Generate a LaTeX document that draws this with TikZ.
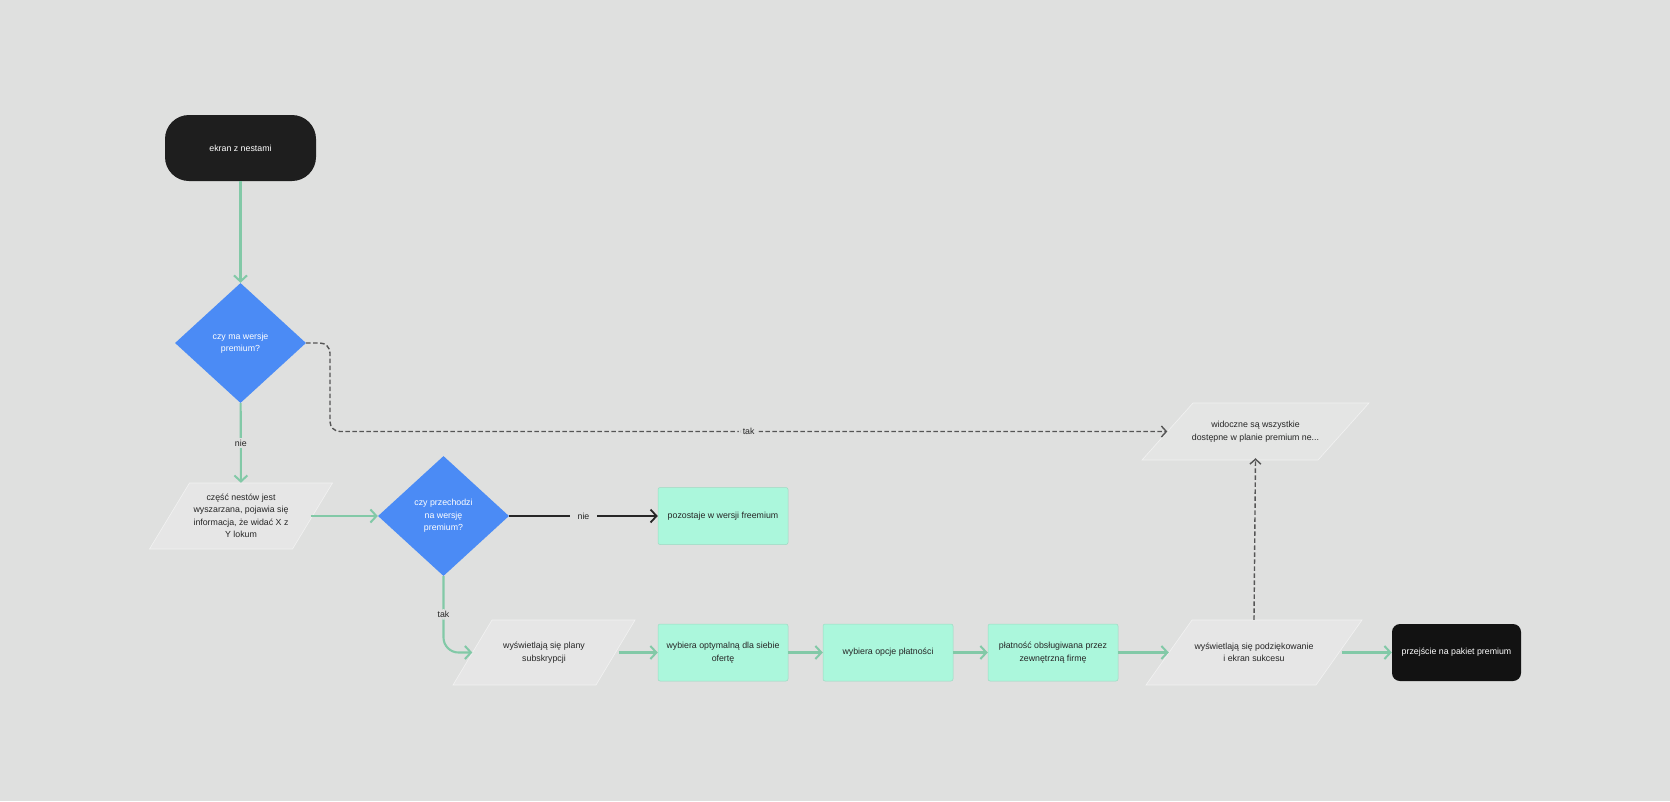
\documentclass[tikz,border=0pt]{standalone}
\usepackage{fontspec}
\setmainfont{Liberation Sans}
\usetikzlibrary{shapes.geometric,arrows.meta}
\definecolor{bgc}{HTML}{DFE0DF}
\definecolor{startc}{HTML}{1E1E1E}
\definecolor{endc}{HTML}{121212}
\definecolor{bluec}{HTML}{4B8BF5}
\definecolor{mintc}{HTML}{ABF7DC}
\definecolor{mintedge}{HTML}{9ED9C2}
\definecolor{parac}{HTML}{E6E6E6}
\definecolor{paraedge}{HTML}{F2F2F2}
\definecolor{paraf}{HTML}{E4E5E4}
\definecolor{greenc}{HTML}{82C9A7}
\definecolor{dashc}{HTML}{555555}
\definecolor{txtc}{HTML}{262626}
\tikzset{
  every node/.style={font=\fontsize{8.8}{12.5}\selectfont, text=txtc},
  startbox/.style={rectangle, rounded corners=24pt, fill=startc, text=white, minimum width=151pt, minimum height=66pt, inner sep=0pt},
  endbox/.style={rectangle, rounded corners=8pt, fill=endc, text=white, minimum width=129pt, minimum height=57pt, inner sep=0pt},
  decision/.style={diamond, fill=bluec, text=white, minimum width=131pt, minimum height=120pt, inner sep=0pt, align=center},
  mintbox/.style={rectangle, rounded corners=2pt, fill=mintc, draw=mintedge, line width=0.5pt, minimum width=130pt, minimum height=57pt, inner sep=0pt, align=center},
  paranode/.style={rectangle, inner sep=0pt, align=center},
  garrow/.style={draw=greenc, line width=2.1pt, -{Straight Barb[length=6pt,width=13pt,line width=2pt]}},
  karrow/.style={draw=txtc, line width=1.9pt, -{Straight Barb[length=6pt,width=13pt,line width=1.8pt]}},
  darrow/.style={draw=dashc, line width=1.4pt, dash pattern=on 4.5pt off 2.5pt, -{Straight Barb[length=5pt,width=11pt,line width=1.4pt,sep=0pt]}},
  lbl/.style={fill=bgc, inner ysep=2pt, inner xsep=5pt, text=txtc},
}
% name, cx, cy, half width at mid, half height, shift, fill, text
\newcommand\parabox[8]{%
  \fill[#7, draw=paraedge, line width=0.6pt] ({#2-#4+#6},{#3-#5}) -- ({#2+#4+#6},{#3-#5}) -- ({#2+#4-#6},{#3+#5}) -- ({#2-#4-#6},{#3+#5}) -- cycle;
  \node[paranode, minimum width={2*#4}, minimum height={2*#5}] (#1) at (#2,#3) {#8};
}
\begin{document}
\begin{tikzpicture}[x=1pt,y=-1pt]
\fill[bgc] (0,0) rectangle (1670,801);
\useasboundingbox (0,0) rectangle (1670,801);

\node[startbox] (start) at (240.5,148) {ekran z nestami};
\node[decision] (d1) at (240.5,343) {\raisebox{-2pt}{\shortstack{czy ma wersje\\[1pt]premium?}}};
\parabox{p2}{241}{516}{71.5}{33}{20}{parac}{część nestów jest\\wyszarzana, pojawia się\\informacja, że widać X z\\Y lokum}
\node[decision] (d2) at (443.5,516) {czy przechodzi\\na wersję\\premium?};
\node[mintbox] (free) at (723,516) {pozostaje w wersji freemium};
\parabox{p3}{544}{652.5}{71.5}{32.5}{19.5}{parac}{wyświetlają się plany\\subskrypcji}
\node[mintbox] (b1) at (723,652.5) {wybiera optymalną dla siebie\\ofertę};
\node[mintbox] (b2) at (888,652.5) {wybiera opcje płatności};
\node[mintbox] (b3) at (1053,652.5) {płatność obsługiwana przez\\zewnętrzną firmę};
\parabox{p4}{1254}{652.5}{85}{32.5}{23}{parac}{wyświetlają się podziękowanie\\i ekran sukcesu}
\node[endbox] (end) at (1456.5,652.5) {przejście na pakiet premium};
\parabox{p1}{1255.5}{431.5}{88}{28.5}{25.5}{paraf}{widoczne są wszystkie\\dostępne w planie premium ne...}

\coordinate (c1) at (330,431.5);

\draw[garrow] (start) -- (d1);
\draw[garrow] (d1) -- node[lbl]{nie} (p2);
\draw[garrow] ([xshift=-2pt]p2.east) -- (d2);
\draw[karrow] (d2) -- node[lbl, inner xsep=8pt]{nie} (free);
\draw[garrow, rounded corners=15pt] (d2.south) |- node[lbl, pos=0.25]{tak} (p3.west);
\draw[garrow] ([xshift=3pt]p3.east) -- (b1);
\draw[garrow] (b1) -- (b2);
\draw[garrow] (b2) -- (b3);
\draw[garrow] (b3) -- (p4);
\draw[garrow] ([xshift=3pt]p4.east) -- (end);
\draw[darrow, rounded corners=10pt] (d1.east) -| (c1) -- node[lbl, inner xsep=4pt, inner ysep=1pt]{tak} (p1.west);
\draw[darrow] (p4.north) -- ([yshift=2pt]p1.south);
\end{tikzpicture}
\end{document}
